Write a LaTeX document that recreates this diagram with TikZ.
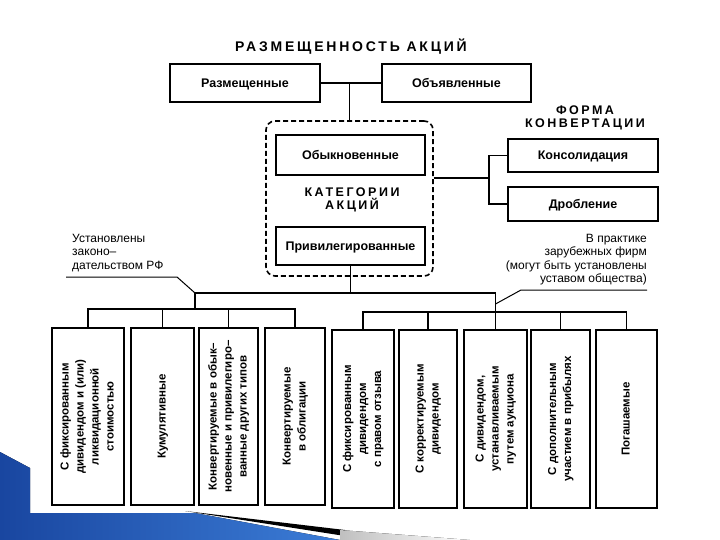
\documentclass[tikz,border=0pt]{standalone}
\usepackage{fontspec}
\setmainfont{Liberation Sans}
\newfontfamily\spacedfont[LetterSpace=20]{Liberation Sans}
\usepackage{graphicx}
\usetikzlibrary{calc}
\definecolor{SlideBlue}{RGB}{25,70,160}
\definecolor{SlideLight}{RGB}{60,125,215}
\newcommand{\VertText}[1]{\rotatebox{90}{\begin{tabular}{@{}c@{}}#1\end{tabular}}}

\begin{document}
\begin{tikzpicture}[x=1pt,y=-1pt,
  box/.style={draw,line width=1.5pt,inner sep=0pt,font=\fontsize{12.5}{14}\selectfont\bfseries},
  hbox/.style={box,text height=9pt,text depth=0pt},
  vbox/.style={box,font=\fontsize{11.5}{15}\selectfont\bfseries},
  link/.style={line width=1.4pt},
  noteline/.style={line width=1pt},
  note/.style={inner sep=0pt,font=\fontsize{12}{13.5}\selectfont},
  head/.style={inner sep=0pt,align=center,font=\fontsize{12.5}{13.5}\selectfont\spacedfont\bfseries}]
\useasboundingbox (0,0) rectangle (720,540);
% slide decoration
\fill[left color=SlideBlue,right color=SlideLight] (0,452) -- (30,468) -- (30,513) -- (195,513) -- (340,540) -- (0,540) -- cycle;
\fill[black] (185,511) -- (345,530) -- (345,536) -- cycle;
\fill[left color=gray!50,right color=white] (340,530) -- (470,540) -- (340,540) -- cycle;
% top level
\node[head,font=\fontsize{14}{15}\selectfont\spacedfont\bfseries] (title) at (351,47) {РАЗМЕЩЕННОСТЬ АКЦИЙ};
\node[hbox,minimum width=150pt,minimum height=38pt] (razm) at (245,83) {Размещенные};
\node[hbox,minimum width=149pt,minimum height=38pt] (obyav) at (456.5,83) {Объявленные};
% categories
\node[draw,line width=1.6pt,dash pattern=on 5pt off 3pt,rounded corners=9pt,minimum width=167pt,minimum height=155pt] (kat) at (349.5,198.5) {};
\node[hbox,minimum width=149pt,minimum height=40pt] (obykn) at (350.5,155) {Обыкновенные};
\node[head] (kattext) at (352,200) {КАТЕГОРИИ\\АКЦИЙ};
\node[hbox,minimum width=149pt,minimum height=38pt] (priv) at (350.5,246) {Привилегированные};
% conversion
\node[head] (forma) at (585,118) {ФОРМА\\КОНВЕРТАЦИИ};
\node[hbox,minimum width=150pt,minimum height=33pt] (cons) at (583,155.5) {Консолидация};
\node[hbox,minimum width=150pt,minimum height=34pt] (drob) at (583,204) {Дробление};
% notes
\node[note,anchor=north west,align=left] (lawnote) at (72,234) {Установлены\\законо–\\дательством РФ};
\node[note,anchor=north east,align=right] (firmnote) at (647,234) {В практике\\зарубежных фирм\\(могут быть установлены\\уставом общества)};
% preferred share types
\node[vbox,minimum width=72pt,minimum height=177pt] (fixdiv) at (88,416.5) {\VertText{С фиксированным\\дивидендом и (или)\\ликвидационной\\стоимостью}};
\node[vbox,minimum width=63pt,minimum height=177pt] (cumul) at (162.5,416.5) {\VertText{Кумулятивные}};
\node[vbox,minimum width=59pt,minimum height=177pt] (convsh) at (228.5,416.5) {\VertText{Конвертируемые в обык–\\новенные и привилегиро–\\ванные других типов}};
\node[vbox,minimum width=60pt,minimum height=177pt] (convbd) at (295,416.5) {\VertText{Конвертируемые\\в облигации}};
\node[vbox,minimum width=62pt,minimum height=178pt] (recall) at (363,419) {\VertText{С фиксированным\\дивидендом\\с правом отзыва}};
\node[vbox,minimum width=58pt,minimum height=178pt] (adjust) at (428,419) {\VertText{С корректируемым\\дивидендом}};
\node[vbox,minimum width=63pt,minimum height=178pt] (auction) at (495.5,419) {\VertText{С дивидендом,\\устанавливаемым\\путем аукциона}};
\node[vbox,minimum width=59pt,minimum height=178pt] (profit) at (560.5,419) {\VertText{С дополнительным\\участием в прибылях}};
\node[vbox,minimum width=61pt,minimum height=178pt] (redeem) at (626.5,419) {\VertText{Погашаемые}};
% connectors
\coordinate (lj) at (195,293);
\coordinate (rj) at (495.5,293);
\coordinate (lbus) at (195,309);
\coordinate (rbus) at (495.5,312);
\coordinate (fork) at (489,178);
\coordinate (lawend) at (66,277);
\coordinate (firmend) at (647,290);
\coordinate (rjoin) at (495.5,304);
\draw[link] (razm) -- (obyav);
\draw[link] (kat.north) -- (kat.north |- razm.east);
\draw[link] (fork -| kat.east) -- (fork);
\draw[link] (cons.west) -| (fork) |- (drob.west);
\draw[link] (priv.south) -- (priv.south |- lj);
\draw[link] (lj) -- (rj) -- (auction.north);
\draw[link] (lj) -- (lbus);
\draw[link] (fixdiv.north) |- (convbd.north |- lbus) -- (convbd.north);
\draw[link] (cumul.north) -- (cumul.north |- lbus);
\draw[link] (convsh.north) -- (convsh.north |- lbus);
\draw[link] (recall.north) |- (redeem.north |- rbus) -- (redeem.north);
\draw[link] (adjust.north) -- (adjust.north |- rbus);
\draw[link] (profit.north) -- (profit.north |- rbus);
\draw[noteline] (lawend) -- ++(111,0) -- (lj);
\draw[noteline] (firmend) -- ++(-126,0) -- (rjoin);
\end{tikzpicture}
\end{document}
